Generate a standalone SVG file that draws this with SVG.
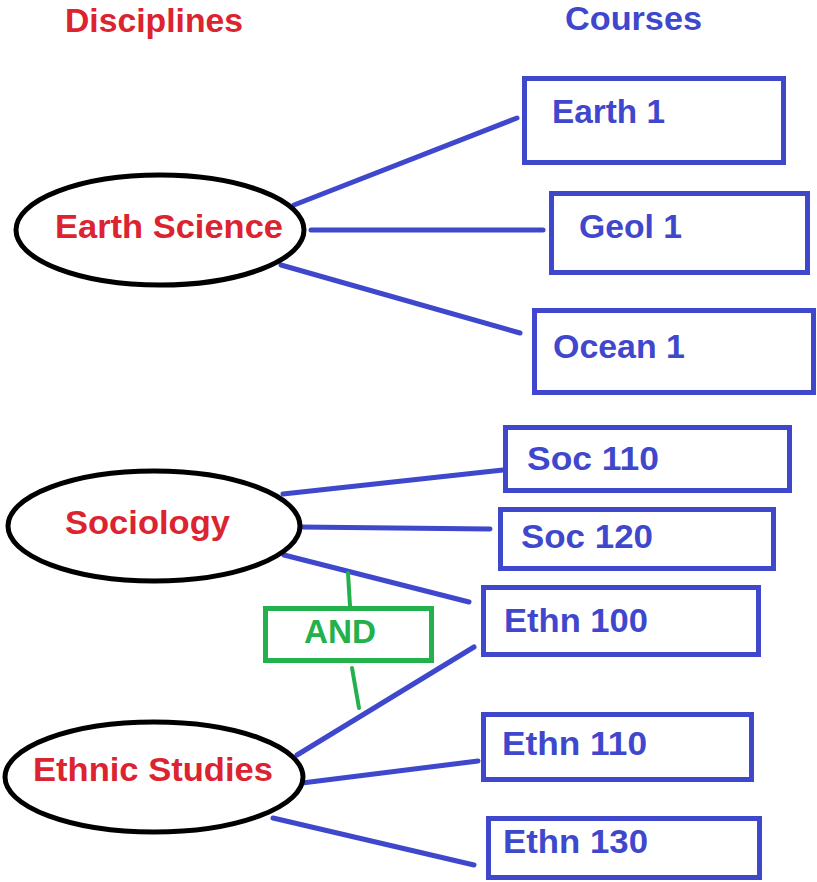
<svg xmlns="http://www.w3.org/2000/svg" width="817" height="882" viewBox="0 0 817 882">
<style>
text{font-family:"Liberation Sans",Arial,sans-serif;font-weight:bold;font-size:33px}
.red{fill:#dc2330}
.blue{fill:#3f48cc}
.grn{fill:#22b14c}
.disc{fill:#fff;stroke:#000;stroke-width:5}
.course{fill:#fff;stroke:#3f48cc;stroke-width:5}
.andbox{fill:#fff;stroke:#22b14c;stroke-width:5}
.link{stroke:#3f48cc;stroke-width:5;stroke-linecap:round;fill:none}
.glink{stroke:#22b14c;stroke-width:4;stroke-linecap:round;fill:none}
</style>
<rect width="817" height="882" fill="#fff"/>
<g id="headers">
<text class="red" x="65" y="32" textLength="178" lengthAdjust="spacingAndGlyphs">Disciplines</text>
<text class="blue" x="565" y="30" textLength="137" lengthAdjust="spacingAndGlyphs">Courses</text>
</g>
<g id="connectors">
<line class="link" x1="294" y1="205" x2="517" y2="118"/>
<line class="link" x1="311" y1="230" x2="543" y2="230"/>
<line class="link" x1="281" y1="265" x2="520" y2="333"/>
<line class="link" x1="283" y1="494" x2="503" y2="470"/>
<line class="link" x1="299" y1="527" x2="490" y2="529"/>
<line class="link" x1="284" y1="555" x2="469" y2="602"/>
<line class="link" x1="297" y1="755" x2="474" y2="647"/>
<line class="link" x1="302" y1="783" x2="478" y2="761"/>
<line class="link" x1="273" y1="818" x2="474" y2="865"/>
<line class="glink" x1="348" y1="573" x2="350" y2="606"/>
<line class="glink" x1="352" y1="668" x2="359" y2="708"/>
</g>
<g id="earth-science">
<ellipse class="disc" cx="160" cy="230" rx="144" ry="55"/>
<text class="red" x="55" y="238" textLength="228" lengthAdjust="spacingAndGlyphs">Earth Science</text>
</g>
<g id="sociology">
<ellipse class="disc" cx="154" cy="526" rx="146" ry="55"/>
<text class="red" x="65" y="534" textLength="165" lengthAdjust="spacingAndGlyphs">Sociology</text>
</g>
<g id="ethnic-studies">
<ellipse class="disc" cx="154" cy="777" rx="149" ry="55"/>
<text class="red" x="33" y="781" textLength="240" lengthAdjust="spacingAndGlyphs">Ethnic Studies</text>
</g>
<g id="and">
<rect class="andbox" x="265.5" y="608.5" width="166" height="52"/>
<text class="grn" x="304" y="643" textLength="72" lengthAdjust="spacingAndGlyphs">AND</text>
</g>
<g id="earth1">
<rect class="course" x="524.5" y="78.5" width="259" height="84"/>
<text class="blue" x="552" y="123" textLength="113" lengthAdjust="spacingAndGlyphs">Earth 1</text>
</g>
<g id="geol1">
<rect class="course" x="551.5" y="193.5" width="256" height="79"/>
<text class="blue" x="579" y="238" textLength="103" lengthAdjust="spacingAndGlyphs">Geol 1</text>
</g>
<g id="ocean1">
<rect class="course" x="534.5" y="310.5" width="279" height="82"/>
<text class="blue" x="553" y="358" textLength="132" lengthAdjust="spacingAndGlyphs">Ocean 1</text>
</g>
<g id="soc110">
<rect class="course" x="505.5" y="427.5" width="284" height="63"/>
<text class="blue" x="527" y="470" textLength="132" lengthAdjust="spacingAndGlyphs">Soc 110</text>
</g>
<g id="soc120">
<rect class="course" x="500.5" y="509.5" width="273" height="59"/>
<text class="blue" x="521" y="548" textLength="132" lengthAdjust="spacingAndGlyphs">Soc 120</text>
</g>
<g id="ethn100">
<rect class="course" x="483.5" y="587.5" width="275" height="67"/>
<text class="blue" x="504" y="632" textLength="144" lengthAdjust="spacingAndGlyphs">Ethn 100</text>
</g>
<g id="ethn110">
<rect class="course" x="483.5" y="714.5" width="268" height="65"/>
<text class="blue" x="502" y="755" textLength="145" lengthAdjust="spacingAndGlyphs">Ethn 110</text>
</g>
<g id="ethn130">
<rect class="course" x="488.5" y="818.5" width="271" height="59"/>
<text class="blue" x="503" y="853" textLength="145" lengthAdjust="spacingAndGlyphs">Ethn 130</text>
</g>
</svg>
